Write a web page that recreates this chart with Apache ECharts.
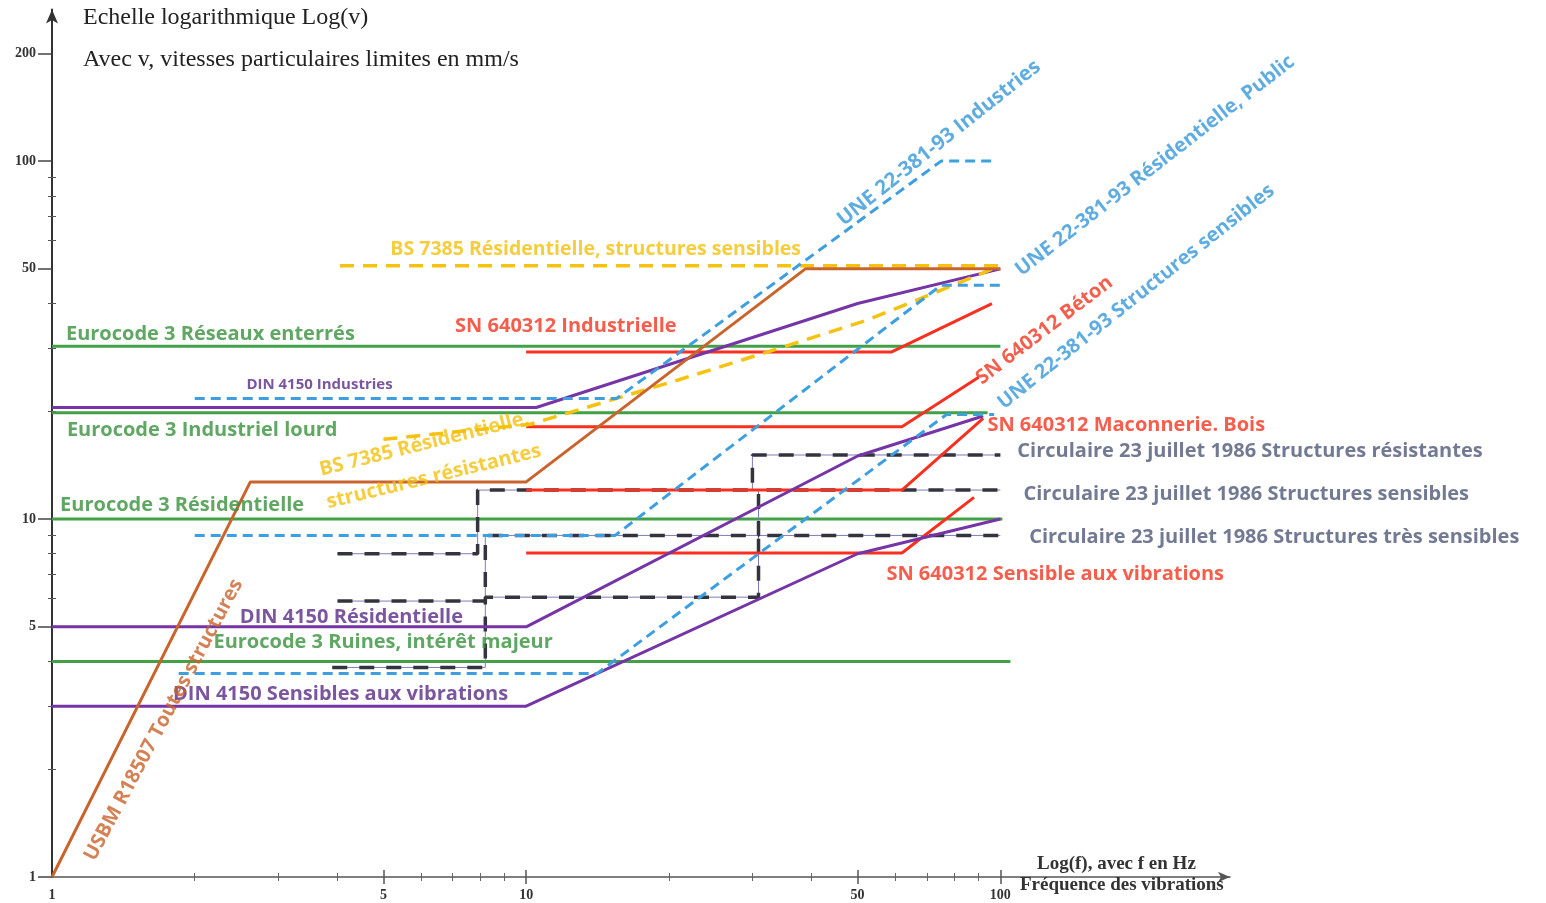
<!DOCTYPE html>
<html><head><meta charset="utf-8">
<script src="https://cdn.jsdelivr.net/npm/echarts@6/dist/echarts.min.js"></script>
<style>html,body{margin:0;padding:0;background:#fff}#c{width:1546px;height:903px}</style>
</head><body><div id="c"></div>
<script>
// ---- axis ticks ----
const xTickLabels = [1, 5, 10, 50, 100];
const xMajorTicks = [5, 10, 50, 100];
const xMinorTicks = [2, 3, 4, 6, 7, 8, 9, 20, 30, 40, 60, 70, 80, 90];
const yTickLabels = [1, 5, 10, 50, 100, 200];
const yMinorTicks = [2, 3, 4, 6, 7, 8, 9, 20, 30, 40, 60, 70, 80, 90];

// ---- series: [frequency Hz, velocity mm/s] ----
const usbm = [[1, 1], [2.62, 12.7], [10, 12.7], [38.8, 50], [100, 50]];
const ecReseaux = [[1, 30.4], [100, 30.4]];
const ecIndustriel = [[1, 19.8], [94, 19.8]];
const ecResid = [[1, 10], [101, 10]];
const ecRuines = [[1, 4.0], [105, 4.0]];
const dinIndus = [[1, 20.5], [10.5, 20.5], [50, 40], [100, 50]];
const dinResid = [[1, 5], [10, 5], [50, 15], [92, 19.4]];
const dinSens = [[1, 3], [10, 3], [50, 8], [100, 10]];
const snIndus = [[10, 29.3], [59, 29.3], [96, 40]];
const snBeton = [[10, 18.1], [62, 18.1], [90, 24.9]];
const snMacon = [[10, 12.05], [62, 12.05], [92, 19.1]];
const snSens = [[10, 8.04], [62, 8.04], [88, 11.5]];
const bsSens = [[4.05, 51], [100, 51]];
const bsResist = [[5, 16.7], [10.2, 18.4], [21, 24.5], [35, 30.3], [52.5, 36], [67, 41], [100, 51]];
const uneIndus = [[2, 21.7], [15.5, 21.7], [75, 100], [97, 100]];
const uneResid = [[2, 9], [15.4, 9], [75, 45], [100, 45]];
const uneSens = [[1.85, 3.7], [14.1, 3.7], [77, 19.6], [97, 19.6]];
const circResist = [[4, 8], [7.9, 8], [7.9, 12.05], [30, 12.05], [30, 15.1], [100, 15.1]];
const circSens = [[4, 5.9], [8.2, 5.9], [8.2, 9], [30.9, 9], [30.9, 12.05], [100, 12.05]];
const circTres = [[3.9, 3.85], [8.2, 3.85], [8.2, 6.05], [30.9, 6.05], [30.9, 9], [100, 9]];

// ---- label texts and their anchor points [Hz, mm/s] ----
const labelTexts = [
  'Eurocode 3 Réseaux enterrés',
  'DIN 4150 Industries',
  'Eurocode 3 Industriel lourd',
  'Eurocode 3 Résidentielle',
  'DIN 4150 Résidentielle',
  'Eurocode 3 Ruines, intérêt majeur',
  'DIN 4150 Sensibles aux vibrations',
  'SN 640312 Industrielle',
  'BS 7385 Résidentielle, structures sensibles',
  'SN 640312 Maconnerie. Bois',
  'Circulaire 23 juillet 1986 Structures résistantes',
  'Circulaire 23 juillet 1986 Structures sensibles',
  'Circulaire 23 juillet 1986 Structures très sensibles',
  'SN 640312 Sensible aux vibrations',
  'USBM R18507 Toutes structures',
  'UNE 22-381-93 Industries',
  'UNE 22-381-93 Résidentielle, Public',
  'UNE 22-381-93 Structures sensibles',
  'SN 640312 Béton',
  'BS 7385 Résidentielle,',
  'structures résistantes'
];
const labelAnchors = [
  [1.07, 32.9], [2.57, 23.8], [1.075, 17.7], [1.04, 10.9], [2.49, 5.33],
  [2.19, 4.53], [1.8, 3.24], [7.08, 34.6], [5.17, 56.8], [93.9, 18.3],
  [108.6, 15.5], [111.9, 11.7], [115, 8.9], [57.5, 7.02], [1.2, 1.12],
  [45.9, 67.6], [109, 49], [100, 20.8], [89.9, 24.4], [3.67, 13.7], [3.8, 11.1]
];

// ---- styles ----
const C = {
  green: '#43a047', purple: '#7535a6', red: '#f7301f', brown: '#c8642c',
  yellow: '#f5c20f', blue: '#3d9fe0', dark: '#34343f', thin: '#7e7cb8',
  tGreen: '#37913c', tPurple: '#5a2b86', tRed: '#f2361f', tYellow: '#f2c10c',
  tBlue: '#3799d8', tBrown: '#c8622a', tCirc: '#4f5778'
};
const labelColors = [C.tGreen, C.tPurple, C.tGreen, C.tGreen, C.tPurple, C.tGreen, C.tPurple, C.tRed, C.tYellow,
  C.tRed, C.tCirc, C.tCirc, C.tCirc, C.tRed, C.tBrown, C.tBlue, C.tBlue, C.tBlue, C.tRed, C.tYellow, C.tYellow];
const labelRotations = [0, 0, 0, 0, 0, 0, 0, 0, 0, 0, 0, 0, 0, 0, 62, 38.5, 37.8, 38.6, 37.2, 14, 13.7];
const labelSizes = [20, 15, 20, 20, 20, 20, 20, 20, 19.5, 20, 20, 20, 20, 20, 20, 20.5, 20, 20, 20, 20, 20];

function lineSeries(data, color, width, type, z) {
  return {
    type: 'line', data: data, symbol: 'none', silent: true, z: z || 2,
    lineStyle: { color: color, width: width, type: type || 'solid', cap: 'butt' }
  };
}

const series = [
  lineSeries(ecReseaux, C.green, 3),
  lineSeries(ecIndustriel, C.green, 3),
  lineSeries(ecResid, C.green, 3),
  lineSeries(ecRuines, C.green, 3),
  lineSeries(circResist, C.thin, 1),
  lineSeries(circSens, C.thin, 1),
  lineSeries(circTres, C.thin, 1),
  lineSeries(circResist, C.dark, 3.5, [15, 12]),
  lineSeries(circSens, C.dark, 3.5, [15, 12]),
  lineSeries(circTres, C.dark, 3.5, [15, 12]),
  lineSeries(snIndus, C.red, 3),
  lineSeries(snBeton, C.red, 3),
  lineSeries(snMacon, C.red, 3),
  lineSeries(snSens, C.red, 3),
  lineSeries(dinIndus, C.purple, 3),
  lineSeries(dinResid, C.purple, 3),
  lineSeries(dinSens, C.purple, 3),
  lineSeries(bsSens, C.yellow, 3.5, [14, 9]),
  lineSeries(bsResist, C.yellow, 3.5, [14, 9]),
  lineSeries(usbm, C.brown, 3),
  lineSeries(uneIndus, C.blue, 3, [10, 6]),
  lineSeries(uneResid, C.blue, 3, [10, 6]),
  lineSeries(uneSens, C.blue, 3, [10, 6]),
  {
    type: 'scatter', symbolSize: 0, silent: true, z: 10,
    data: labelTexts.map((t, i) => ({
      value: labelAnchors[i],
      label: {
        show: true, formatter: t, position: 'inside', align: 'left', verticalAlign: 'middle',
        rotate: labelRotations[i], color: labelColors[i], fontSize: labelSizes[i],
        fontFamily: 'Open Sans', fontWeight: 'bold'
      }
    }))
  }
];

const tickLabelStyle = { fontSize: 14, fontWeight: 'bold', fontFamily: 'Liberation Serif', color: '#333' };
const hidden = { show: false };
const serifTitle = { fontFamily: 'Liberation Serif', fontSize: 24, fontWeight: 'normal', color: '#222' };
const axisNameStyle = { fontFamily: 'Liberation Serif', fontSize: 19, fontWeight: 'bold', color: '#333' };

const option = {
  animation: false,
  backgroundColor: '#fff',
  grid: { left: 52, right: 316, top: 9.6, bottom: 26, containLabel: false, outerBoundsMode: 'none' },
  title: [
    { text: 'Echelle logarithmique Log(v)', left: 83, top: 6, padding: 0, textStyle: serifTitle },
    { text: 'Avec v, vitesses particulaires limites en mm/s', left: 83, top: 48, padding: 0, textStyle: serifTitle },
    { text: 'Log(f), avec f en Hz', left: 1037, top: 855, padding: 0, textStyle: axisNameStyle },
    { text: 'Fréquence des vibrations', left: 1020, top: 876, padding: 0, textStyle: axisNameStyle }
  ],
  xAxis: [
    { type: 'log', logBase: 10, min: 1, max: 305, position: 'bottom',
      axisLine: { show: true, symbol: ['none', 'arrow'], symbolSize: [8, 12], lineStyle: { color: '#555', width: 1.5 } },
      axisTick: hidden, splitLine: hidden, minorTick: hidden,
      axisLabel: Object.assign({ show: true, customValues: xTickLabels, margin: 11 }, tickLabelStyle) },
    { type: 'log', logBase: 10, min: 1, max: 305, position: 'bottom', offset: -7,
      axisLine: hidden, axisLabel: hidden, splitLine: hidden,
      axisTick: { show: true, customValues: xMajorTicks, length: 14, lineStyle: { color: '#555', width: 1.5 } } },
    { type: 'log', logBase: 10, min: 1, max: 305, position: 'bottom', offset: -4,
      axisLine: hidden, axisLabel: hidden, splitLine: hidden,
      axisTick: { show: true, customValues: xMinorTicks, length: 8, lineStyle: { color: '#666', width: 1 } } }
  ],
  yAxis: [
    { type: 'log', logBase: 10, min: 1, max: 265, position: 'left',
      axisLine: { show: true, symbol: ['none', 'arrow'], symbolSize: [9, 14], lineStyle: { color: '#333', width: 2 } },
      axisTick: { show: true, customValues: yTickLabels, length: 14, lineStyle: { color: '#444', width: 1.5 } },
      splitLine: hidden, minorTick: hidden,
      axisLabel: Object.assign({ show: true, customValues: yTickLabels, margin: 16 }, tickLabelStyle) },
    { type: 'log', logBase: 10, min: 1, max: 265, position: 'left', offset: -4,
      axisLine: hidden, axisLabel: hidden, splitLine: hidden,
      axisTick: { show: true, customValues: yMinorTicks, length: 8, lineStyle: { color: '#555', width: 1 } } }
  ],
  series: series
};

const chart = echarts.init(document.getElementById('c'), null, { renderer: 'canvas' });
chart.setOption(option);
</script></body></html>
